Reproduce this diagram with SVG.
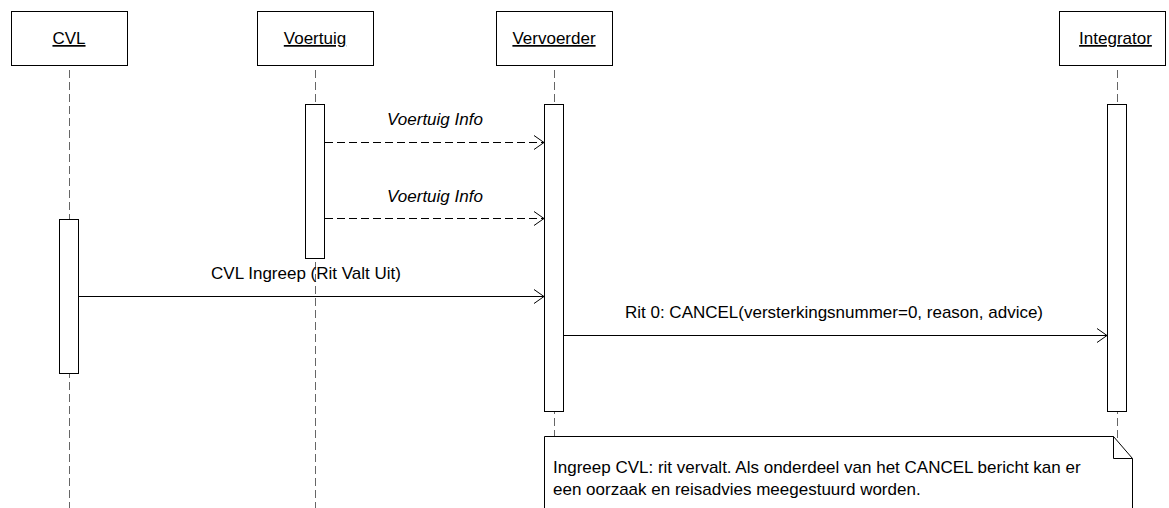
<svg xmlns="http://www.w3.org/2000/svg" width="1169" height="508" viewBox="0 0 1169 508">
<style>
  text { font-family: "Liberation Sans", Arial, sans-serif; font-size: 17px; fill: #000; }
  .hdr { text-anchor: middle; text-decoration: underline; }
  .box { fill: #fff; stroke: #000; stroke-width: 1; }
  .life { stroke: #666; stroke-width: 1; stroke-dasharray: 8 4; fill: none; }
  .act { fill: #fff; stroke: #000; stroke-width: 1; }
  .msg { stroke: #000; stroke-width: 1; fill: none; marker-end: url(#open); }
  .ret { stroke-dasharray: 8 4; }
  .lbl { text-anchor: middle; }
  .it { font-style: italic; }
</style>
<defs>
  <marker id="open" markerUnits="userSpaceOnUse" markerWidth="12" markerHeight="16" refX="10" refY="7" orient="auto" overflow="visible">
    <path d="M0,0 L10,7 L0,14" fill="none" stroke="#000" stroke-width="1" stroke-dasharray="none"/>
  </marker>
</defs>
<rect width="1169" height="508" fill="#fff"/>

<g id="cvl">
  <line class="life" x1="69.5" y1="70" x2="69.5" y2="508"/>
  <rect class="box" x="11.5" y="11.5" width="116" height="54"/>
  <text class="hdr" x="69" y="44">CVL</text>
  <rect class="act" x="59.5" y="219.5" width="19" height="154"/>
</g>

<g id="voertuig">
  <line class="life" x1="315.5" y1="70" x2="315.5" y2="508"/>
  <rect class="box" x="257.5" y="11.5" width="116" height="54"/>
  <text class="hdr" x="315" y="44">Voertuig</text>
  <rect class="act" x="305.5" y="104.5" width="19" height="154"/>
</g>

<g id="vervoerder">
  <line class="life" x1="554.5" y1="70" x2="554.5" y2="508"/>
  <rect class="box" x="496.5" y="11.5" width="116" height="54"/>
  <text class="hdr" x="554" y="44">Vervoerder</text>
  <rect class="act" x="544.5" y="104.5" width="19" height="307"/>
</g>

<g id="integrator">
  <line class="life" x1="1117.5" y1="70" x2="1117.5" y2="508"/>
  <rect class="box" x="1059.5" y="11.5" width="106" height="54"/>
  <text class="hdr" x="1115.5" y="44">Integrator</text>
  <rect class="act" x="1107.5" y="104.5" width="19" height="307"/>
</g>

<g id="connectors">
  <line class="msg ret" x1="325" y1="142.5" x2="544" y2="142.5"/>
  <text class="lbl it" x="435" y="125">Voertuig Info</text>
  <line class="msg ret" x1="325" y1="218.5" x2="544" y2="218.5"/>
  <text class="lbl it" x="435" y="201.5">Voertuig Info</text>
  <line class="msg" x1="79" y1="296.5" x2="544" y2="296.5"/>
  <text class="lbl" x="306" y="279">CVL Ingreep (Rit Valt Uit)</text>
  <line class="msg" x1="564" y1="335.5" x2="1107" y2="335.5"/>
  <text class="lbl" x="834" y="318">Rit 0: CANCEL(versterkingsnummer=0, reason, advice)</text>
</g>

<g id="note">
  <path d="M544.5,520 L544.5,436.5 L1113.5,436.5 L1132.5,458.5 L1132.5,520 Z" fill="#fff" stroke="#000" stroke-width="1"/>
  <path d="M1113.5,436.5 L1113.5,458.5 L1132.5,458.5" fill="none" stroke="#000" stroke-width="1"/>
  <text x="553" y="473">Ingreep CVL: rit vervalt. Als onderdeel van het CANCEL bericht kan er</text>
  <text x="553" y="495">een oorzaak en reisadvies meegestuurd worden.</text>
</g>
</svg>
